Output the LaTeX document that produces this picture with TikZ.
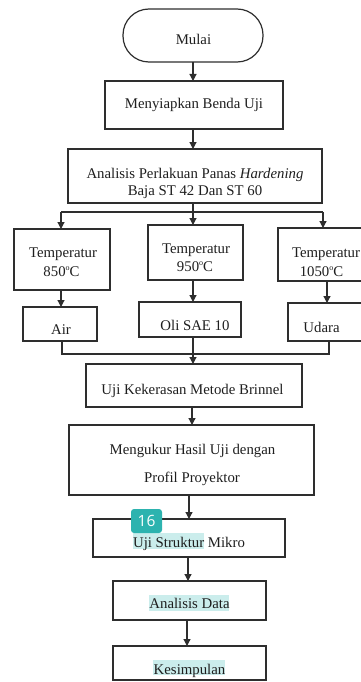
\documentclass[tikz,border=0pt]{standalone}
\usepackage{fontspec}
\setmainfont{Liberation Serif}
\newfontfamily\badgefont{Open Sans}
\usetikzlibrary{arrows.meta}
\definecolor{ln}{HTML}{2E2E2E}
\definecolor{tx}{HTML}{1E1E1E}
\definecolor{hl}{HTML}{CBEDEC}
\definecolor{badgecol}{HTML}{2DB3AF}
\newcommand{\dego}{\raisebox{0.75ex}{\fontsize{8}{8}\selectfont o}}
\begin{document}
\begin{tikzpicture}[x=1pt,y=-1pt,
  box/.style={draw=ln,line width=1.2pt,inner sep=0pt,outer sep=0pt},
  txt/.style={text=tx,inner sep=0pt,outer sep=0pt,anchor=base,font=\fontsize{14.8}{18}\selectfont},
  arr/.style={draw=ln,line width=1.2pt,-{Triangle[length=7pt,width=7pt]}},
  conn/.style={draw=ln,line width=1.2pt}]
\useasboundingbox (0,0) rectangle (361,682);
% highlights
\fill[hl] (133,533) rectangle (204,549);
\fill[hl] (149,595) rectangle (229,611);
\fill[hl] (153,660) rectangle (225,675);
% boxes
\node[box,rounded corners=26pt,minimum width=140pt,minimum height=53pt] (mulai) at (193,35.5) {};
\node[box,minimum width=178pt,minimum height=48pt] (siap) at (194,105) {};
\node[box,minimum width=254pt,minimum height=54pt] (anal) at (195,176) {};
\node[box,minimum width=96pt,minimum height=61pt] (t850) at (62,259.5) {};
\node[box,minimum width=95pt,minimum height=55pt] (t950) at (195.5,252.5) {};
\node[box,minimum width=90pt,minimum height=53pt] (t1050) at (323,254.5) {};
\node[box,minimum width=74pt,minimum height=34pt] (air) at (60,324) {};
\node[box,minimum width=102pt,minimum height=35pt] (oli) at (190,319.5) {};
\node[box,minimum width=82pt,minimum height=38pt] (udara) at (329,322) {};
\node[box,minimum width=216pt,minimum height=43pt] (brin) at (194,385.5) {};
\node[box,minimum width=245pt,minimum height=70pt] (ukur) at (191.5,460) {};
\node[box,minimum width=192pt,minimum height=38pt] (mikro) at (189,538) {};
\node[box,minimum width=153pt,minimum height=39pt] (data) at (189.5,600.5) {};
\node[box,minimum width=153pt,minimum height=34pt] (simp) at (189.5,663) {};
% texts
\node[txt] (mulai-t) at (193.5,45) {Mulai};
\node[txt] (siap-t) at (194,109) {Menyiapkan Benda Uji};
\node[txt] (anal-t1) at (195,178) {Analisis Perlakuan Panas \textit{Hardening}};
\node[txt] (anal-t2) at (195,195) {Baja ST 42 Dan ST 60};
\node[txt] (t850-t1) at (63,257) {Temperatur};
\node[txt] (t850-t2) at (61.5,276) {850\dego C};
\node[txt] (t950-t1) at (196,253) {Temperatur};
\node[txt] (t950-t2) at (195,271) {950\dego C};
\node[txt] (t1050-t1) at (326,257) {Temperatur};
\node[txt] (t1050-t2) at (321.5,276) {1050\dego C};
\node[txt] (air-t) at (61,334) {Air};
\node[txt] (oli-t) at (195,330) {Oli SAE 10};
\node[txt] (udara-t) at (321.5,332) {Udara};
\node[txt] (brin-t) at (192.5,394) {Uji Kekerasan Metode Brinnel};
\node[txt] (ukur-t1) at (192.5,454) {Mengukur Hasil Uji dengan};
\node[txt] (ukur-t2) at (192,482) {Profil Proyektor};
\node[txt] (mikro-t) at (189,547) {Uji Struktur Mikro};
\node[txt] (data-t) at (189.5,608) {Analisis Data};
\node[txt] (simp-t) at (189.5,674) {Kesimpulan};
% badge
\node[fill=badgecol,rounded corners=3pt,minimum width=31pt,minimum height=24pt,inner sep=0pt,
  text=white,font=\badgefont\fontsize{15.5}{16}\selectfont] (badge) at (146.5,521) {16};
% column coordinates
\coordinate (xL) at (61,0);
\coordinate (xM) at (193,0);
\coordinate (xR) at (327,0);
\coordinate (sl) at (61,212);
\coordinate (sm) at (193,212);
\coordinate (sr) at (323,212);
\coordinate (jl) at (62,354);
\coordinate (jr) at (329,354);
\coordinate (xB) at (192,0);
\coordinate (xU) at (189,0);
\coordinate (xD) at (188,0);
\coordinate (xS) at (187,0);
% connectors
\draw[arr] (mulai.south -| xM) -- (siap.north -| xM);
\draw[arr] (siap.south -| xM) -- (anal.north -| xM);
\draw[conn] (anal.south -| xM) -- (sm);
\draw[conn] (sl) -- (sr);
\draw[arr] (sl) -- (t850.north -| sl);
\draw[arr] (sm) -- (t950.north -| sm);
\draw[arr] (sr) -- (t1050.north -| sr);
\draw[arr] (t850.south -| xL) -- (air.north -| xL);
\draw[arr] (t950.south -| xM) -- (oli.north -| xM);
\draw[arr] (t1050.south -| xR) -- (udara.north -| xR);
\draw[conn] (air.south -| jl) -- (jl) -- (jr) -- (udara.south -| jr);
\draw[arr] (oli.south -| xM) -- (brin.north -| xM);
\draw[arr] (brin.south -| xB) -- (ukur.north -| xB);
\draw[arr] (ukur.south -| xU) -- (mikro.north -| xU);
\draw[arr] (mikro.south -| xD) -- (data.north -| xD);
\draw[arr] (data.south -| xS) -- (simp.north -| xS);
\end{tikzpicture}
\end{document}
